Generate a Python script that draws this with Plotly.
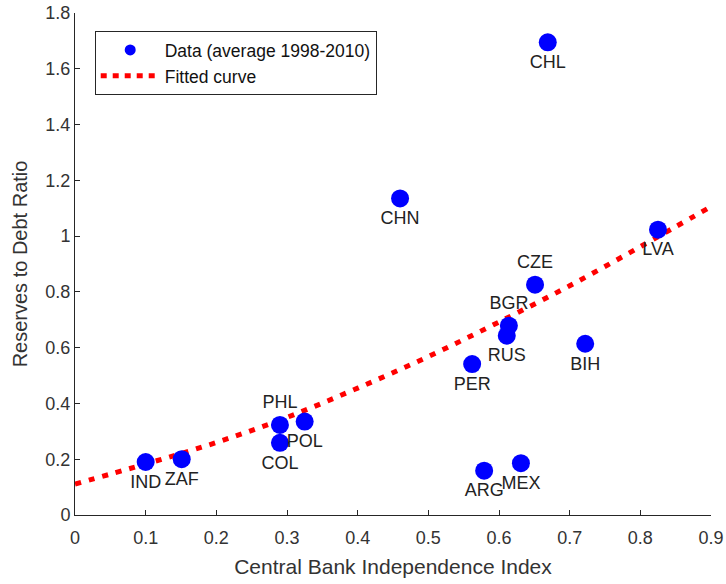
import plotly.graph_objects as go

# Country averages, 1998-2010
countries = ["IND", "ZAF", "PHL", "POL", "COL", "CHN", "CHL", "PER",
             "RUS", "BGR", "CZE", "BIH", "LVA", "ARG", "MEX"]
cbi_index = [0.100, 0.151, 0.290, 0.325, 0.290, 0.460, 0.669, 0.562,
             0.611, 0.614, 0.651, 0.722, 0.825, 0.579, 0.631]
reserves_debt = [0.190, 0.200, 0.323, 0.335, 0.259, 1.135, 1.695, 0.541,
                 0.643, 0.679, 0.826, 0.614, 1.023, 0.159, 0.186]
label_pos = ["bottom center", "bottom center", "top center", "bottom center",
             "bottom center", "bottom center", "bottom center", "bottom center",
             "bottom center", "top center", "top center", "bottom center",
             "bottom center", "bottom center", "bottom center"]

# Fitted curve sampled along the index
fit_x = [0.0, 0.1, 0.2, 0.3, 0.4, 0.5, 0.6, 0.7, 0.8, 0.9]
fit_y = [0.111, 0.183, 0.260, 0.350, 0.455, 0.568, 0.692, 0.822, 0.962, 1.106]

x_ticks = [0, 0.1, 0.2, 0.3, 0.4, 0.5, 0.6, 0.7, 0.8, 0.9]
y_ticks = [0, 0.2, 0.4, 0.6, 0.8, 1.0, 1.2, 1.4, 1.6, 1.8]

FONT = "Liberation Sans, Arial, sans-serif"
AXIS_COLOR = "#262626"

fig = go.Figure()

fig.add_trace(go.Scatter(
    x=fit_x, y=fit_y, mode="lines", name="Fitted curve",
    line=dict(color="#FF0000", width=5, dash="6px,8px", shape="spline"),
    showlegend=False,
))

fig.add_trace(go.Scatter(
    x=cbi_index, y=reserves_debt, mode="markers+text",
    text=countries, textposition=label_pos,
    textfont=dict(family=FONT, size=18, color="#222222"),
    marker=dict(color="#0000FF", size=18, line=dict(width=0)),
    name="Data (average 1998-2010)", showlegend=False,
    cliponaxis=False,
))

# Legend entries
fig.add_trace(go.Scatter(
    x=[None], y=[None], mode="markers", name="Data (average 1998-2010)",
    marker=dict(color="#0000FF", size=11),
))
fig.add_trace(go.Scatter(
    x=[None], y=[None], mode="lines", name="Fitted curve",
    line=dict(color="#FF0000", width=5, dash="6px,6px"),
))

axis_common = dict(
    showline=True, linecolor=AXIS_COLOR, linewidth=1,
    ticks="inside", ticklen=5, tickcolor=AXIS_COLOR, tickwidth=1,
    showgrid=False, zeroline=False, mirror=False, automargin=False,
    tickfont=dict(family=FONT, size=18, color="#333333"),
)

fig.update_xaxes(
    range=[0, 0.9], tickvals=x_ticks,
    ticktext=[f"{v:g}" for v in x_ticks], ticklabelstandoff=6,
    title=dict(text="Central Bank Independence Index",
               font=dict(family=FONT, size=21, color="#333333"), standoff=12),
    **axis_common,
)
fig.update_yaxes(
    range=[0, 1.8], tickvals=y_ticks,
    ticktext=[f"{v:g}" for v in y_ticks],
    title=dict(text="Reserves to Debt Ratio",
               font=dict(family=FONT, size=20, color="#333333"), standoff=12),
    **axis_common,
)

fig.update_layout(
    width=726, height=584,
    margin=dict(l=75, r=15, t=13, b=69),
    paper_bgcolor="white", plot_bgcolor="white",
    font=dict(family=FONT),
    legend=dict(
        x=0.031, y=0.964, xanchor="left", yanchor="top",
        bordercolor=AXIS_COLOR, borderwidth=1, bgcolor="white",
        font=dict(family=FONT, size=17.5, color="#111111"),
        tracegroupgap=0, itemwidth=59,
    ),
)

fig.write_html("out.html")
